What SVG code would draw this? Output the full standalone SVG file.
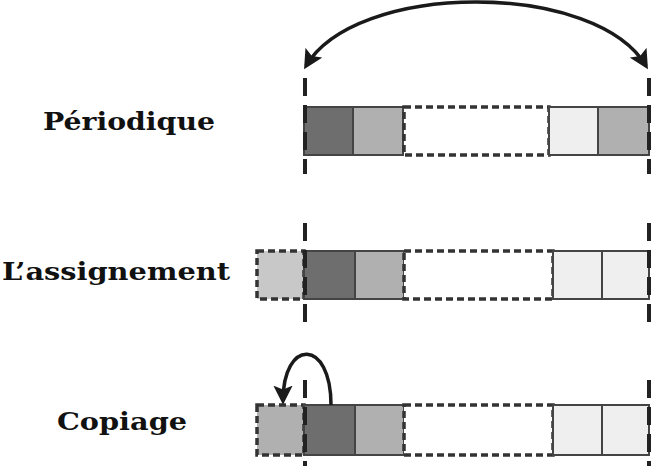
<svg xmlns="http://www.w3.org/2000/svg" width="668" height="474" viewBox="0 0 668 474">
<defs>
<style>
.lbl{font-family:"DejaVu Serif","Liberation Serif",serif;font-weight:bold;font-size:24px;fill:#111}
.s{stroke:#444;stroke-width:2}
.d{stroke:#333;stroke-width:3.5;stroke-dasharray:7 4}
.v{stroke:#222;stroke-width:4;stroke-dasharray:18 9;fill:none}
.arc{fill:none;stroke:#1a1a1a;stroke-width:3.5}
.dark{fill:#6e6e6e}.mid{fill:#b0b0b0}.light{fill:#efefef}.pale{fill:#c8c8c8}
</style>
<marker id="ah" viewBox="0 0 10 10" refX="8" refY="5" markerWidth="5.5" markerHeight="5.5" orient="auto" markerUnits="strokeWidth">
<path d="M0,0 L10,5 L0,10 L2,5 z" fill="#1a1a1a"/>
</marker>
</defs>
<rect width="668" height="474" fill="#fff"/>

<g id="row1">
<text class="lbl" x="43" y="130" textLength="172" lengthAdjust="spacingAndGlyphs">Périodique</text>
<rect class="s dark" x="304" y="107" width="49" height="48"/>
<rect class="s mid" x="353" y="107" width="50" height="48"/>
<rect class="d" x="404" y="107" width="145" height="48" fill="#fff"/>
<rect class="s light" x="549" y="107" width="49" height="48"/>
<rect class="s mid" x="598" y="107" width="51" height="48"/>
</g>

<g id="row2">
<text class="lbl" x="2" y="280" textLength="228" lengthAdjust="spacingAndGlyphs">L’assignement</text>
<rect class="d pale" x="257" y="251" width="47" height="48"/>
<rect class="s dark" x="304" y="251" width="51" height="48"/>
<rect class="s mid" x="355" y="251" width="49" height="48"/>
<rect class="d" x="404" y="251" width="149" height="48" fill="#fff"/>
<rect class="s light" x="553" y="251" width="49" height="48"/>
<rect class="s light" x="602" y="251" width="47" height="48"/>
</g>

<g id="row3">
<text class="lbl" x="57" y="430" textLength="130" lengthAdjust="spacingAndGlyphs">Copiage</text>
<rect class="d mid" x="257" y="405" width="47" height="50"/>
<rect class="s dark" x="304" y="405" width="51" height="50"/>
<rect class="s mid" x="355" y="405" width="49" height="50"/>
<rect class="d" x="404" y="405" width="149" height="50" fill="#fff"/>
<rect class="s light" x="553" y="405" width="49" height="50"/>
<rect class="s light" x="602" y="405" width="47" height="50"/>
</g>

<g id="connectors">
<line class="v" x1="305" y1="78" x2="305" y2="174"/>
<line class="v" x1="649" y1="78" x2="649" y2="174"/>
<line class="v" x1="305" y1="223" x2="305" y2="322"/>
<line class="v" x1="649" y1="223" x2="649" y2="322"/>
<line class="v" x1="305" y1="380" x2="305" y2="466"/>
<line class="v" x1="649" y1="380" x2="649" y2="466"/>
<path class="arc" d="M476,2 C400,2 330,25 306,66" marker-end="url(#ah)"/>
<path class="arc" d="M476,2 C552,2 622,25 646,66" marker-end="url(#ah)"/>
<path class="arc" d="M331,405 C331,338 283,338 283,401" marker-end="url(#ah)"/>
</g>
</svg>
